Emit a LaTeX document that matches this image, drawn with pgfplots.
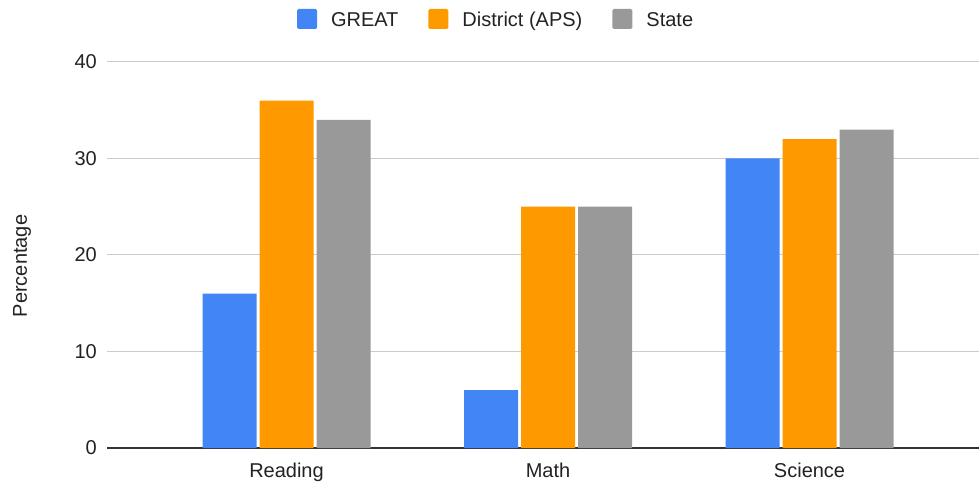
\documentclass[border=0pt]{standalone}
\usepackage{pgfplots}
\pgfplotsset{compat=1.18}
\usepackage{fontspec}
\setmainfont{Liberation Sans}
\definecolor{cgreat}{HTML}{4285F4}
\definecolor{caps}{HTML}{FF9900}
\definecolor{cstate}{HTML}{999999}
\definecolor{ctext}{HTML}{222222}
\definecolor{cgrid}{HTML}{CCCCCC}
\definecolor{caxis}{HTML}{333333}
\pgfplotsset{
  sqlegend/.style={legend image code/.code={\fill[##1, rounded corners=1.5pt] (0pt,-2.8pt) rectangle (20pt,17.2pt);}}
}
\begin{document}
\begin{tikzpicture}
\useasboundingbox (0pt,0pt) rectangle (979pt,482pt);
\begin{axis}[
  at={(107pt,34pt)}, anchor=south west,
  scale only axis, width=872pt, height=386pt,
  xmin=-0.6864, xmax=2.648, ymin=0, ymax=40,
  ytick={0,10,20,30,40},
  xtick={0,1,2}, xticklabels={Reading,Math,Science},
  ybar=3pt, bar width=54pt,
  ymajorgrids, grid style={cgrid, line width=1pt},
  separate axis lines,
  axis x line*=bottom, axis y line*=left,
  x axis line style={-, draw=caxis, line width=1.3pt},
  y axis line style={draw=none},
  major tick length=0pt,
  /pgf/number format/assume math mode=true,
  tick label style={font=\fontsize{20}{24}\selectfont, text=ctext},
  yticklabel style={anchor=east, inner sep=0pt, xshift=-10pt},
  xticklabel style={anchor=north, inner sep=0pt, yshift=-15pt},
  legend columns=3,
  legend style={at={(axis description cs:0.2179,1.1114)}, anchor=west,
    draw=none, fill=none, inner sep=0pt, outer sep=0pt,
    font=\fontsize{20}{24}\selectfont, text=ctext,
    nodes={inner sep=0pt},
    cells={anchor=base west},
    /tikz/every odd column/.append style={column sep=14pt},
    /tikz/every even column/.append style={column sep=30pt}},
]
\addplot[fill=cgreat, draw=none, sqlegend] coordinates {(0,16) (1,6) (2,30)};
\addlegendentry{GREAT}
\addplot[fill=caps, draw=none, sqlegend] coordinates {(0,36) (1,25) (2,32)};
\addlegendentry{District (APS)}
\addplot[fill=cstate, draw=none, sqlegend] coordinates {(0,34) (1,25) (2,33)};
\addlegendentry{State}
\end{axis}
\node[rotate=90, font=\fontsize{20}{24}\selectfont, text=ctext, inner sep=0pt] at (22pt,216pt) {Percentage};
\end{tikzpicture}
\end{document}
